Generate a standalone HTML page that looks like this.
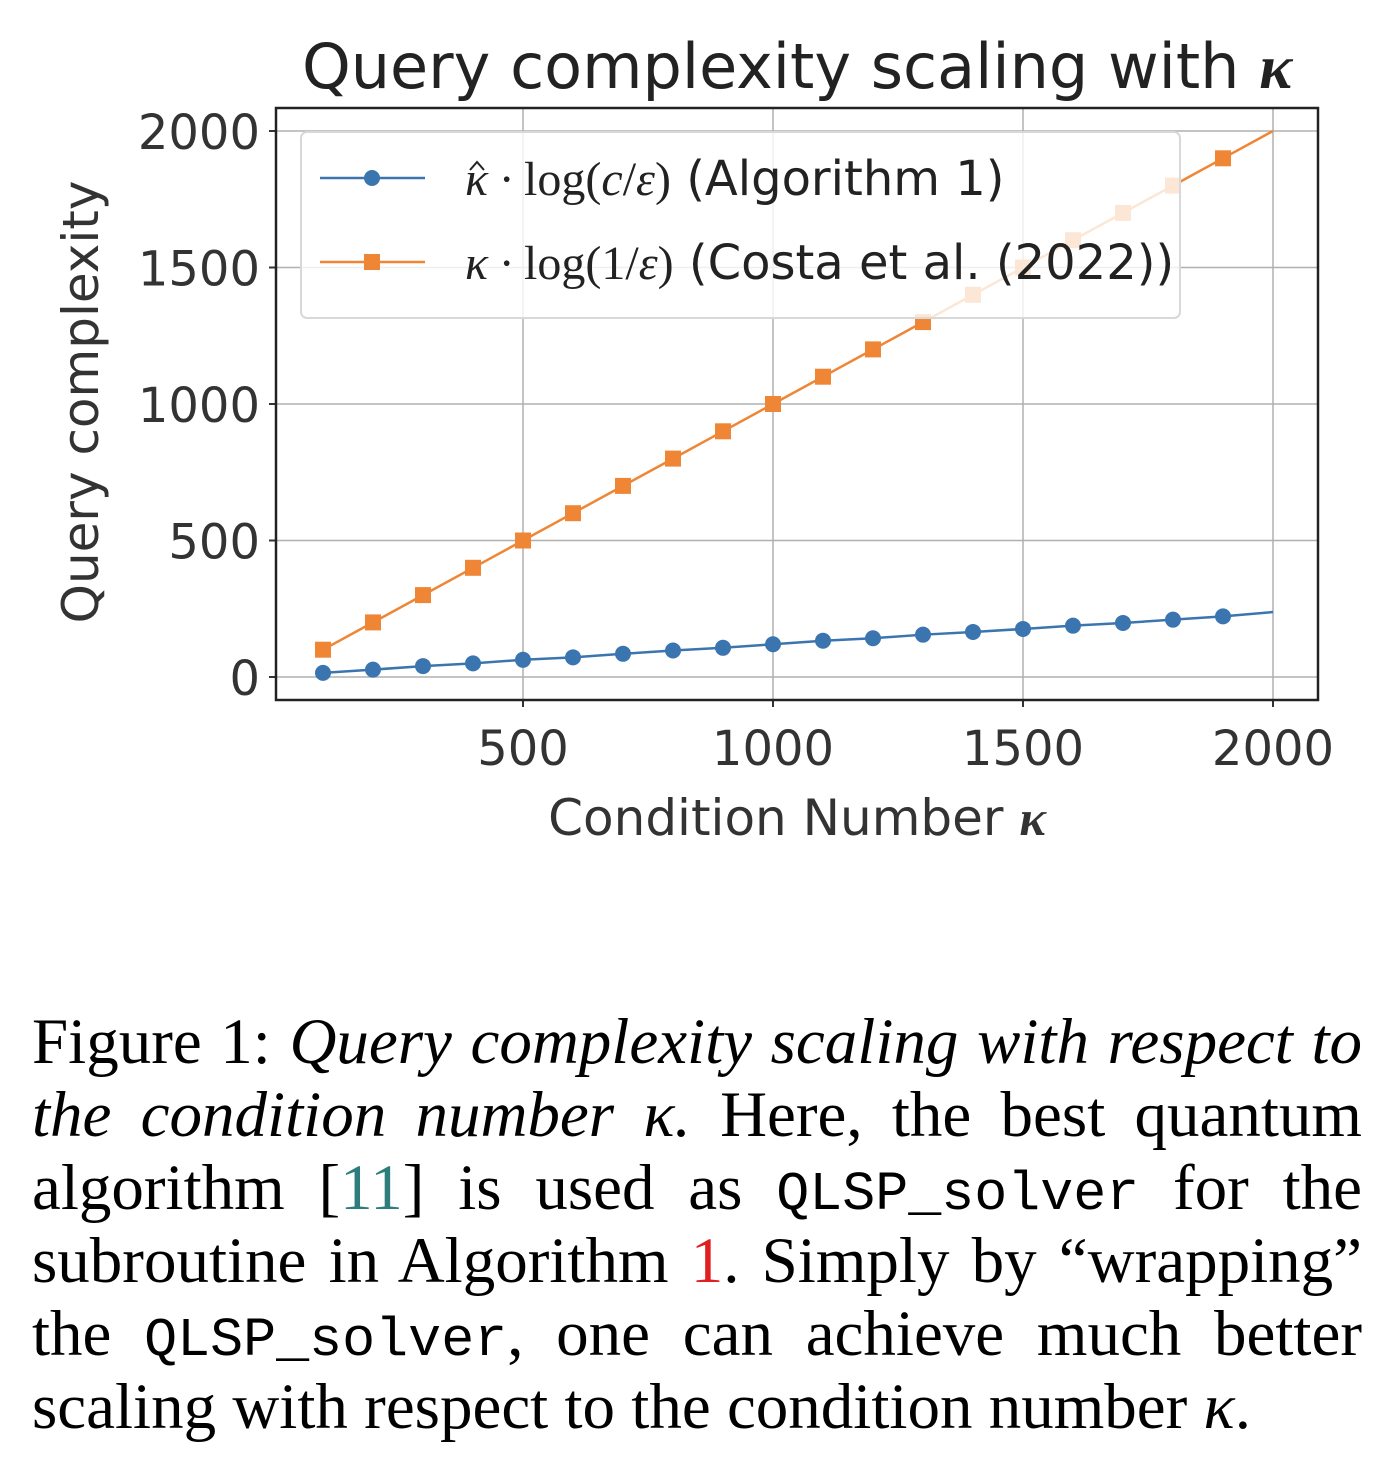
<!DOCTYPE html>
<html><head><meta charset="utf-8">
<style>
html,body{margin:0;padding:0;background:#fff;width:1392px;height:1464px;overflow:hidden}
#cap{position:absolute;left:32px;top:1006px;width:1330px;font-family:"Liberation Serif",serif;font-size:65px;color:#000}
.ln{height:73px;line-height:73px;text-align:justify;text-align-last:justify;white-space:nowrap}
.last{text-align-last:left}
.m{font-family:"Liberation Mono",monospace;font-size:55px}
</style></head><body>
<svg id="chart" width="1392" height="900" style="position:absolute;left:0;top:0" font-family="'DejaVu Sans','Liberation Sans',sans-serif">
<text x="797" y="88" font-size="62" text-anchor="middle" fill="#222">Query complexity scaling with <tspan font-family="'Liberation Serif',serif" font-style="italic" font-weight="bold">κ</tspan></text>
<g id="grid"></g><g id="axes"></g><g id="series"></g><g id="legend"></g>
<text transform="translate(98,402) rotate(-90)" font-size="50" text-anchor="middle" fill="#333">Query complexity</text>
<text x="797" y="835" font-size="50" text-anchor="middle" fill="#333">Condition Number <tspan font-family="'Liberation Serif',serif" font-style="italic" font-weight="bold">κ</tspan></text>
</svg>
<div id="cap">
<div class="ln">Figure 1: <i>Query complexity scaling with respect to</i></div>
<div class="ln"><i>the condition number κ.</i> Here, the best quantum</div>
<div class="ln">algorithm [<span style="color:#2e7d7d">11</span>] is used as <span class="m">QLSP_solver</span> for the</div>
<div class="ln">subroutine in Algorithm <span style="color:#e02020">1</span>. Simply by “wrapping”</div>
<div class="ln">the <span class="m">QLSP_solver</span>, one can achieve much better</div>
<div class="ln last">scaling with respect to the condition number <i>κ</i>.</div>
</div>
<script>
const kappa=[100,200,300,400,500,600,700,800,900,1000,1100,1200,1300,1400,1500,1600,1700,1800,1900,2000];
const algo1=[15,27,40,50,63,72,85,97,107,120,133,142,155,165,176,188,198,210,222,238];
const costa=[100,200,300,400,500,600,700,800,900,1000,1100,1200,1300,1400,1500,1600,1700,1800,1900,2000];
const xTicks=[500,1000,1500,2000];
const yTicks=[0,500,1000,1500,2000];
const NS='http://www.w3.org/2000/svg';
const L=276,R=1318,T=108,B=700;
const sx=v=>273+v*0.5, sy=v=>677-v*0.273;
function mk(p,t,a){const e=document.createElementNS(NS,t);for(const k in a)e.setAttribute(k,a[k]);p.appendChild(e);return e;}
const grid=document.getElementById('grid'),axes=document.getElementById('axes'),ser=document.getElementById('series'),leg=document.getElementById('legend');
xTicks.forEach(v=>{
 const g=mk(grid,'line',{x1:sx(v),x2:sx(v),y1:T,y2:B,stroke:'#b0b0b0','stroke-width':1.5});
 
 mk(axes,'line',{x1:sx(v),x2:sx(v),y1:B,y2:B+7,stroke:'#333','stroke-width':2});
 const t=mk(axes,'text',{x:sx(v),y:B+65,'font-size':48,'text-anchor':'middle',fill:'#333'});t.textContent=v;
 
});
yTicks.forEach(v=>{
 const g=mk(grid,'line',{x1:L,x2:R,y1:sy(v),y2:sy(v),stroke:'#b0b0b0','stroke-width':1.5});
 
 mk(axes,'line',{x1:L-7,x2:L,y1:sy(v),y2:sy(v),stroke:'#333','stroke-width':2});
 const t=mk(axes,'text',{x:L-16,y:sy(v)+18,'font-size':48,'text-anchor':'end',fill:'#333'});t.textContent=v;
 
});
const fr=mk(axes,'rect',{x:L,y:T,width:R-L,height:B-T,fill:'none',stroke:'#222','stroke-width':2.5});

function series(vals,color,shape,name){
 const g=mk(ser,'g',{});
 
 mk(g,'polyline',{points:kappa.map((k,i)=>sx(k)+','+sy(vals[i])).join(' '),fill:'none',stroke:color,'stroke-width':2.5});
 kappa.forEach((k,i)=>{ if(k>=2000)return;
  let m;
  if(shape==='c')m=mk(g,'circle',{cx:sx(k),cy:sy(vals[i]),r:8,fill:color});
  else m=mk(g,'rect',{x:sx(k)-8,y:sy(vals[i])-8,width:16,height:16,fill:color});
  
 });
}
series(costa,'#ef8636','s','costa-series');
series(algo1,'#3b75af','c','algorithm1-series');
const box=mk(leg,'rect',{x:301,y:132,width:879,height:186,rx:6,fill:'rgba(255,255,255,0.8)',stroke:'#d8d8d8','stroke-width':2});

[['#3b75af','c',178,'<tspan font-family="Liberation Serif,serif" font-style="italic">κ · </tspan><tspan font-family="Liberation Serif,serif">log(<tspan font-style="italic">c</tspan>/<tspan font-style="italic">ε</tspan>)</tspan> (Algorithm 1)','legend-entry-algorithm1',true],
 ['#ef8636','s',262,'<tspan font-family="Liberation Serif,serif" font-style="italic">κ · </tspan><tspan font-family="Liberation Serif,serif">log(1/<tspan font-style="italic">ε</tspan>)</tspan> (Costa et al. (2022))','legend-entry-costa',false]].forEach(([c,s,y,txt,nm,hat])=>{
 const g=mk(leg,'g',{});
 mk(g,'line',{x1:320,x2:425,y1:y,y2:y,stroke:c,'stroke-width':2.5});
 if(s==='c')mk(g,'circle',{cx:372,cy:y,r:8,fill:c});else mk(g,'rect',{x:364,y:y-8,width:16,height:16,fill:c});
 const t=mk(g,'text',{x:465,y:y+17,'font-size':48,fill:'#222'});t.innerHTML=txt;
 if(hat){mk(g,'polyline',{points:`${470},${y-8} ${477},${y-16} ${484},${y-8}`,fill:'none',stroke:'#222','stroke-width':2});}
});
</script>
</body></html>
